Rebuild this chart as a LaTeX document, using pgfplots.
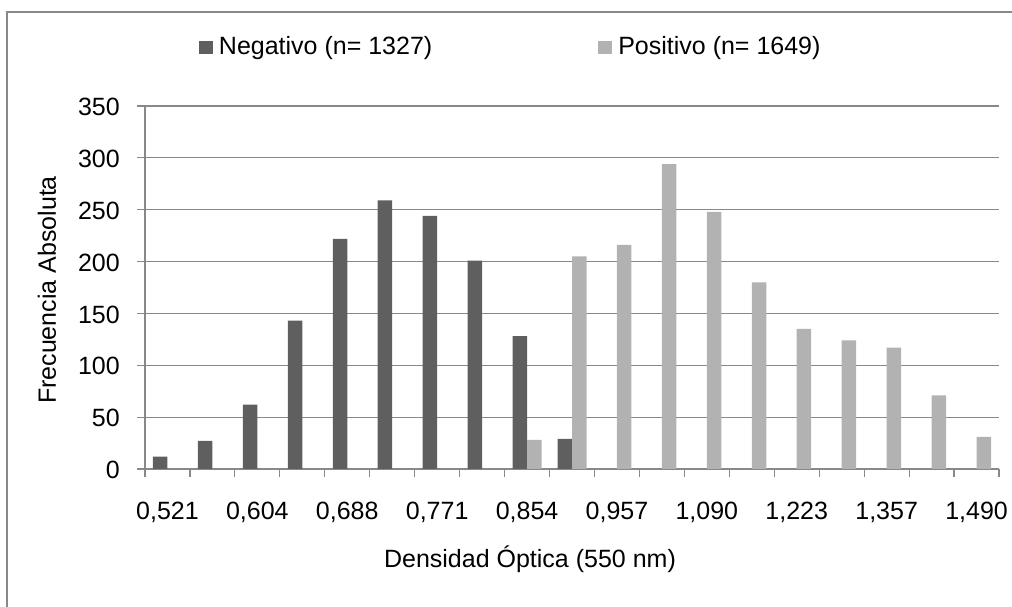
\documentclass[border=0pt]{standalone}
\usepackage{pgfplots}
\pgfplotsset{compat=1.18}
\usepackage{fontspec}
\setmainfont{Liberation Sans}
\definecolor{negc}{HTML}{5F5F5F}
\definecolor{posc}{HTML}{B2B2B2}
\definecolor{gridc}{HTML}{888888}
\pgfplotsset{sqlegend/.style={legend image code/.code={\fill[##1] (0bp,-6.5bp) rectangle (14bp,6.5bp);}}}
\begin{document}
\fontsize{25bp}{30bp}\selectfont
\begin{tikzpicture}
\path[use as bounding box] (0,0) rectangle (1012bp,607bp);
\draw[gridc, line width=1.2bp] (7bp,0) -- (7bp,595bp) -- (1012bp,595bp);
\begin{axis}[
  at={(145bp,138bp)}, anchor=south west,
  scale only axis, width=854bp, height=363bp,
  ybar=0pt, bar width=0.3226,
  xmin=0.5, xmax=19.5, ymin=0, ymax=350,
  ytick={0,50,...,350},
  xtick={0.5,1.5,...,19.5},
  xticklabels={},
  extra x ticks={1,3,...,19},
  extra x tick labels={{0,521},{0,604},{0,688},{0,771},{0,854},{0,957},{1,090},{1,223},{1,357},{1,490}},
  extra x tick style={major tick length=0pt, grid=none},
  axis x line*=bottom, axis y line*=left,
  tick align=outside, major tick length=8bp,
  ymajorgrids=true,
  major grid style={gridc, line width=1.2bp},
  axis line style={gridc, line width=1.2bp},
  tick style={gridc, line width=1.2bp},
  /pgf/number format/assume math mode=true,
  xticklabel style={anchor=base, yshift=-50bp, inner sep=0pt},
  yticklabel style={anchor=east, inner sep=0pt, xshift=-17bp, yshift=-1bp},
  ylabel={Frecuencia Absoluta},
  ylabel style={at={(axis description cs:-0.1148,0.493)}, anchor=center},
  xlabel={Densidad Óptica (550 nm)},
  xlabel style={at={(axis description cs:0.4508,-0.27)}, anchor=base},
  legend style={at={(axis description cs:0.0632,1.1612)}, anchor=west, draw=none, fill=none,
    inner sep=0pt, outer sep=0pt, legend columns=2,
    nodes={inner sep=0pt},
    /tikz/every odd column/.append style={column sep=6bp},
    /tikz/every even column/.append style={column sep=166bp}},
]
\addplot[fill=negc, draw=none, sqlegend] coordinates {
(1,12) (2,27) (3,62) (4,143) (5,222) (6,259) (7,244) (8,201) (9,128) (10,29)};
\addlegendentry{Negativo (n= 1327)}
\addplot[fill=posc, draw=none, sqlegend] coordinates {
(9,28) (10,205) (11,216) (12,294) (13,248) (14,180) (15,135) (16,124) (17,117) (18,71) (19,31)};
\addlegendentry{Positivo (n= 1649)}
\end{axis}
\end{tikzpicture}
\end{document}
